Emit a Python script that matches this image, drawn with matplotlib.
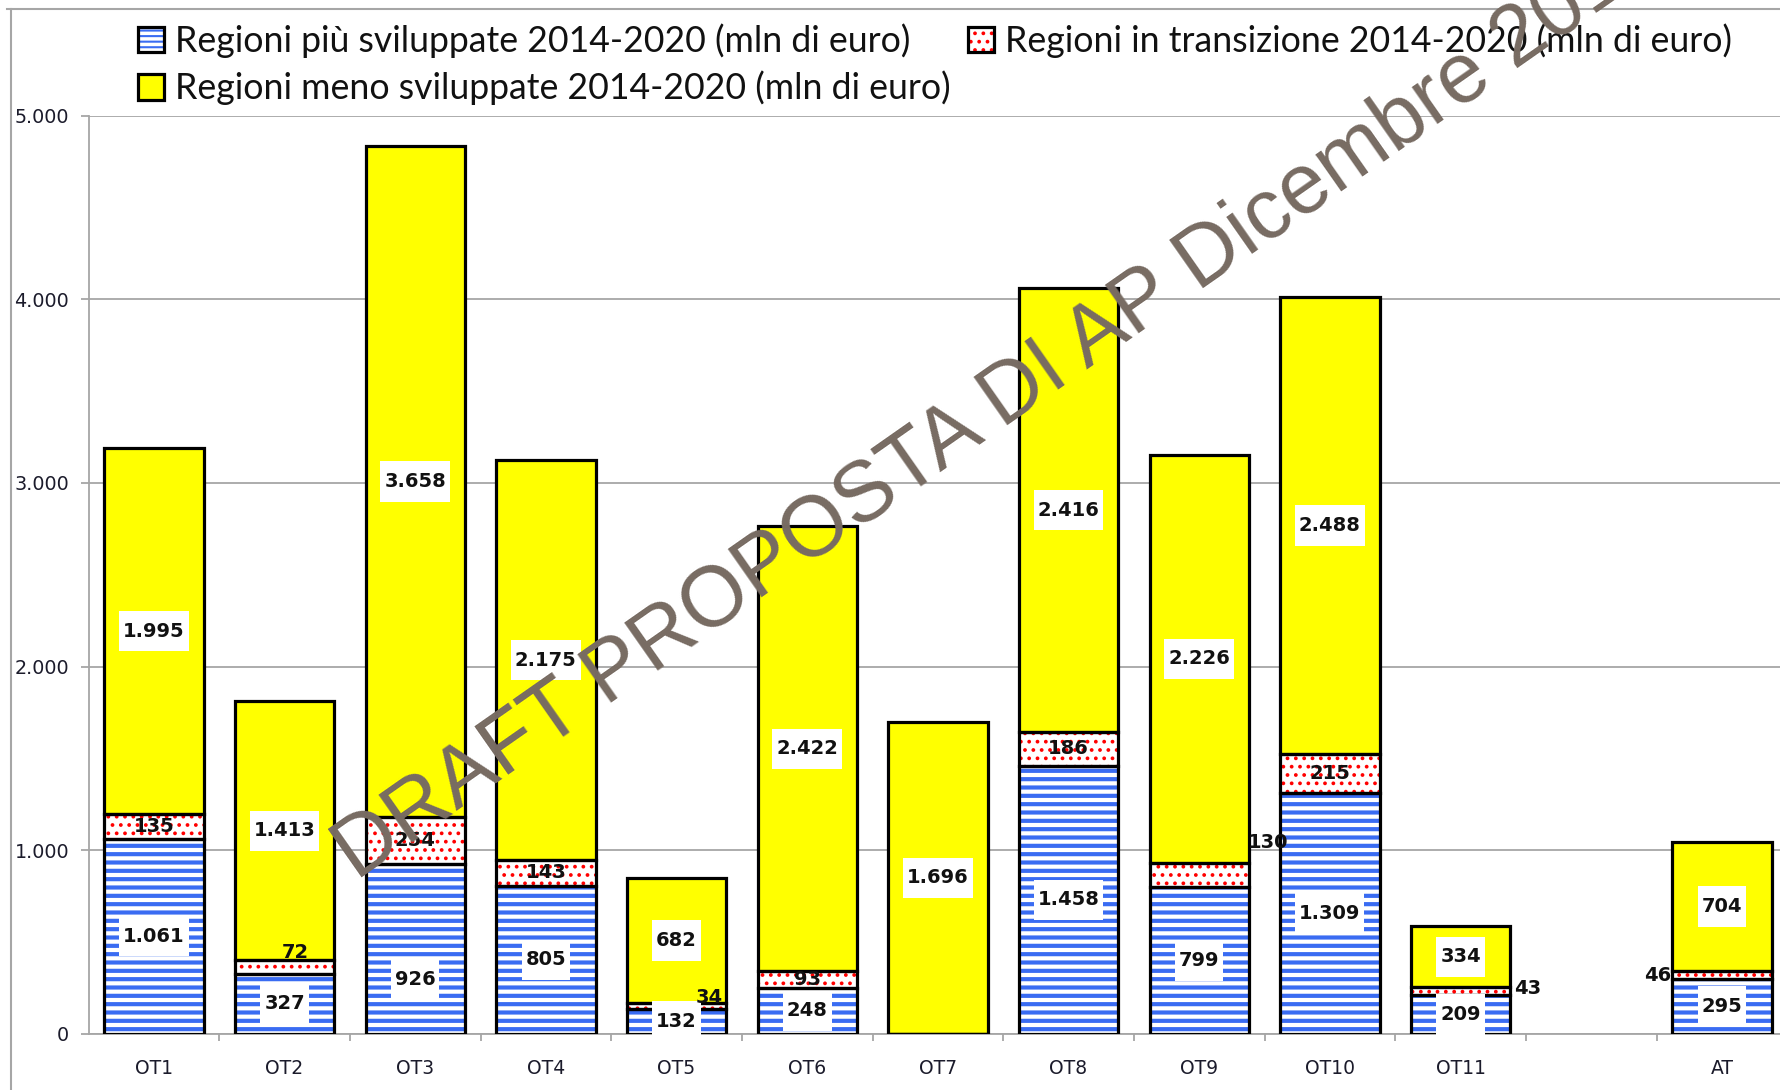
import numpy as np
import matplotlib.pyplot as plt
from matplotlib.patches import Patch
from matplotlib.lines import Line2D
from matplotlib.path import Path

# data (mln di euro)
cats = ['OT1', 'OT2', 'OT3', 'OT4', 'OT5', 'OT6', 'OT7', 'OT8', 'OT9', 'OT10', 'OT11', 'AT']
pos = np.array([0, 1, 2, 3, 4, 5, 6, 7, 8, 9, 10, 12])   # empty slot before AT
blue = np.array([1061, 327, 926, 805, 132, 248, 0, 1458, 799, 1309, 209, 295])
pink = np.array([135, 72, 254, 143, 34, 93, 0, 186, 130, 215, 43, 46])
yellow = np.array([1995, 1413, 3658, 2175, 682, 2422, 1696, 2416, 2226, 2488, 334, 704])

leg_labels = ['Regioni più sviluppate 2014-2020 (mln di euro)',
              'Regioni in transizione 2014-2020 (mln di euro)',
              'Regioni meno sviluppate 2014-2020 (mln di euro)']

BLUE = '#3a6cf2'
YEL = '#ffff00'
GRID = '#a6a6a6'
W = 0.76
LW = 2.3


def it_fmt(v):
    return f'{v:,.0f}'.replace(',', '.')


def label_box(x0, y0, width, height, mutation_size):
    px, py = 0.2 * mutation_size, 0.55 * mutation_size
    x0, y0 = x0 - px, y0 - py
    x1, y1 = x0 + width + 2 * px, y0 + height + 2 * py
    return Path([(x0, y0), (x1, y0), (x1, y1), (x0, y1), (x0, y0)], closed=True)


def set_hlw(bars, lw):
    for b in bars:
        if hasattr(b, 'set_hatch_linewidth'):
            b.set_hatch_linewidth(lw)


fig = plt.figure(figsize=(17.81, 10.90), dpi=100)
ax = fig.add_axes([0.0497, 0.0517, 0.9538, 0.842])

plt.rcParams['hatch.linewidth'] = 3.0
b1 = ax.bar(pos, blue, W, color='white', edgecolor=BLUE, linewidth=0, hatch='--', zorder=2)
set_hlw(b1, 3.0)
plt.rcParams['hatch.linewidth'] = 1.5
b2 = ax.bar(pos, pink, W, bottom=blue, color='white', edgecolor='red', linewidth=0, hatch='..', zorder=2)
set_hlw(b2, 1.5)
b3 = ax.bar(pos, yellow, W, bottom=blue + pink, color=YEL, edgecolor='black', linewidth=LW, zorder=3)
# black outlines of the hatched segments
ax.bar(pos, blue, W, fill=False, edgecolor='black', linewidth=LW, zorder=3)
ax.bar(pos, pink, W, bottom=blue, fill=False, edgecolor='black', linewidth=LW, zorder=3)

# value labels
offsets = {('b', 2): (0, -167),
           ('p', 1): (0.08, 80), ('p', 4): (0.25, 50), ('p', 8): (0.53, 177),
           ('p', 10): (0.51, 17), ('p', 11): (-0.49, 0)}
series = [('b', blue, np.zeros(len(blue)), True),
          ('p', pink, blue, False),
          ('y', yellow, blue + pink, True)]
for key, vals, bottoms, boxed in series:
    for i, (x, v, b0) in enumerate(zip(pos, vals, bottoms)):
        if v == 0:
            continue
        dx, dy = offsets.get((key, i), (0, 0))
        kw = dict(ha='center', va='center', fontsize=14, fontweight='bold',
                  color='#111111', zorder=5)
        if boxed:
            kw['bbox'] = dict(boxstyle=label_box, fc='white', ec='none')
        ax.text(x + dx, b0 + v / 2 + dy, it_fmt(v), **kw)

# axes styling
ax.set_xlim(-0.5, 12.5)
ax.set_ylim(0, 5000)
ax.set_yticks(np.arange(0, 5001, 1000))
ax.set_yticklabels([it_fmt(t) for t in np.arange(0, 5001, 1000)])
ax.yaxis.grid(True, color=GRID, linewidth=1.3, zorder=0)
ax.set_axisbelow(True)
ax.set_xticks(pos)
ax.set_xticklabels(cats)
ax.set_xticks(np.arange(0.5, 12, 1), minor=True)
ax.tick_params(axis='x', which='major', length=0, pad=18, labelsize=13.5, labelcolor='#1b1b2b')
ax.tick_params(axis='x', which='minor', length=5, color=GRID, width=1.3)
ax.tick_params(axis='y', length=6, color=GRID, width=1.3, pad=8, labelsize=13.8, labelcolor='#1b1b2b')
for s in ['top', 'right']:
    ax.spines[s].set_visible(False)
for s in ['left', 'bottom']:
    ax.spines[s].set_color(GRID)
    ax.spines[s].set_linewidth(1.3)

# legend: row 1 = blue, pink ; row 2 = yellow
h_blue = Patch(facecolor='white', edgecolor=BLUE, hatch='---', linewidth=0)
h_pink = Patch(facecolor='white', edgecolor='red', hatch='..', linewidth=0)
h_yel = Patch(facecolor=YEL, edgecolor='black', linewidth=LW)
h_blue_o = Patch(fill=False, edgecolor='black', linewidth=LW)
h_pink_o = Patch(fill=False, edgecolor='black', linewidth=LW)
leg = fig.legend([(h_blue, h_blue_o), (h_yel,), (h_pink, h_pink_o)],
                 [leg_labels[0], leg_labels[2], leg_labels[1]],
                 ncol=2, loc='upper left', bbox_to_anchor=(0.0676, 0.995),
                 frameon=False, borderpad=0, handlelength=0.72, handleheight=0.72,
                 handletextpad=0.3, columnspacing=0.5, labelspacing=0.36,
                 prop={'family': 'Lato', 'size': 25.7})
for t in leg.get_texts():
    t.set_color('#111111')

# outer chart frame
fig.add_artist(Line2D([0.004, 1.0], [0.9917, 0.9917], transform=fig.transFigure, color=GRID, lw=1.5))
fig.add_artist(Line2D([0.0062, 0.0062], [0.0, 0.9917], transform=fig.transFigure, color=GRID, lw=1.5))

# watermark
fig.text(0.2, 0.192, 'DRAFT PROPOSTA DI AP Dicembre 2013', family='Liberation Sans',
         fontsize=61, color='#776b62', rotation=35, rotation_mode='anchor',
         ha='left', va='baseline', zorder=20)

fig.savefig('out.png', dpi=100)
